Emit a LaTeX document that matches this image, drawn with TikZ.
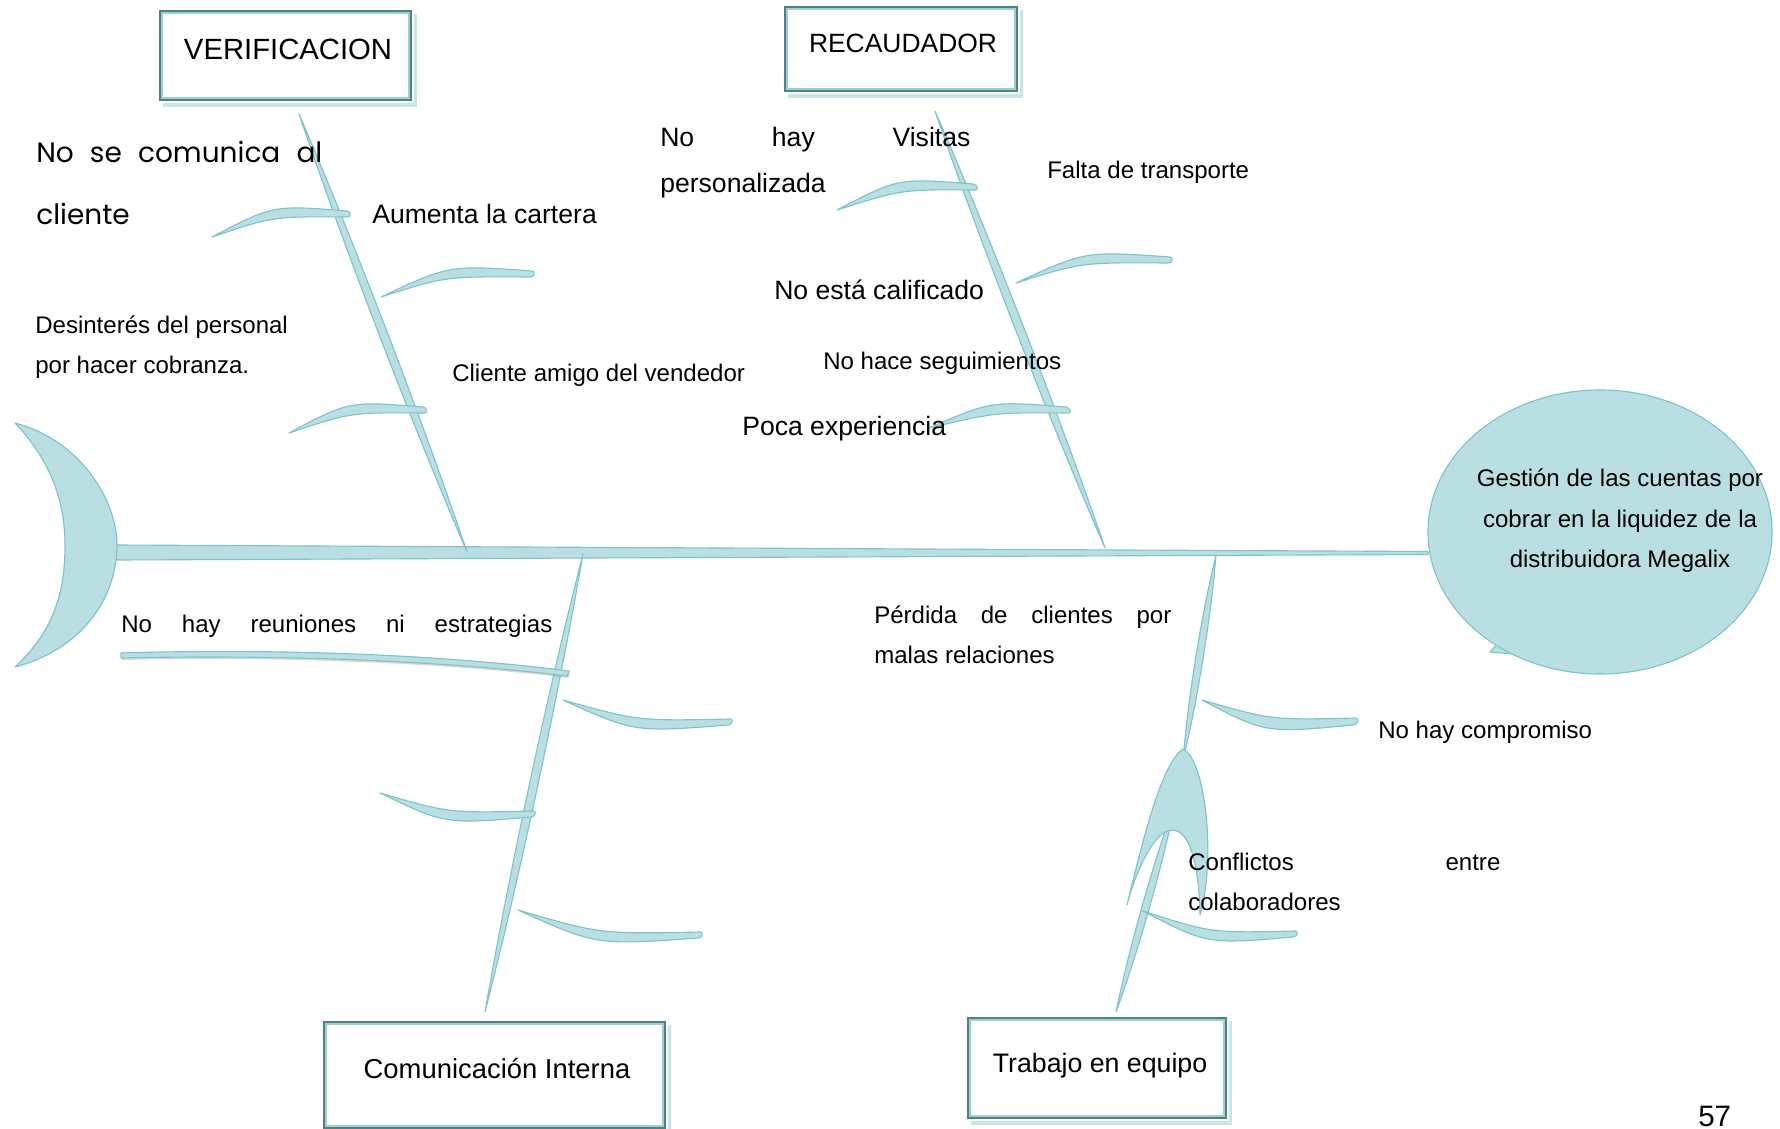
\documentclass[tikz,border=0pt]{standalone}
\usepackage{fontspec}
\setmainfont{Liberation Sans}
\newfontfamily\handfont{Poppins}
\usetikzlibrary{calc,shapes.geometric}

\definecolor{fishfill}{HTML}{B9DFE2}
\definecolor{fishline}{HTML}{7EC4CA}
\definecolor{boxdark}{HTML}{557F83}
\definecolor{boxlight}{HTML}{96D3D7}
\definecolor{boxshade}{HTML}{C6E7E9}

% long tapered bone between two named points, #3 = bulge
\newcommand\leaf[3]{%
  \path[fish] (#1)
    .. controls ($(#1)!0.3!(#2)!#3!90:(#2)$) and ($(#1)!0.7!(#2)!#3!90:(#2)$) .. (#2)
    .. controls ($(#1)!0.7!(#2)!#3!-90:(#2)$) and ($(#1)!0.3!(#2)!#3!-90:(#2)$) .. (#1) -- cycle;}

% curved blade: tip, control, the two corners of the rounded blunt end
\newcommand\blade[4]{%
  \path[fish] (#1) .. controls (#2) .. (#3)
    .. controls ($(#3)!-3pt!(#2)$) and ($(#4)!-3pt!(#2)$) .. (#4)
    .. controls ($(#2)+1.9*(#4)-1.9*(#3)$) .. (#1) -- cycle;}

% double frame and shadow of a category box
\newcommand\boxtrim[1]{%
  \draw[boxshade, line width=2.6pt] ([shift={(3.5,4)}]#1.north east) -- ([shift={(3.5,4)}]#1.south east) -- ([shift={(3.5,4)}]#1.south west);
  \draw[boxlight, line width=1.3pt] ([shift={(3,3)}]#1.north west) rectangle ([shift={(-3,-3)}]#1.south east);}

\begin{document}
\begin{tikzpicture}[x=0.025cm, y=-0.025cm,
  fish/.style={fill=fishfill, draw=fishline, line width=0.8pt, line join=round},
  lbl/.style={inner sep=0pt, anchor=base west, font=\fontsize{17.1pt}{20pt}\selectfont},
  lblm/.style={lbl, font=\fontsize{18.9pt}{22pt}\selectfont},
  catbox/.style={rectangle, draw=boxdark, line width=1.3pt, fill=white, inner sep=0pt},
  boxlbl/.style={inner sep=0pt, anchor=base},
  efflbl/.style={inner sep=0pt, anchor=base, font=\fontsize{17.1pt}{20pt}\selectfont}
]
\useasboundingbox (0,0) rectangle (1780,1129);

% bone end points
\coordinate (b1t) at (299,114);  \coordinate (b1s) at (467,552);
\coordinate (b2t) at (935,111);  \coordinate (b2s) at (1105,548);
\coordinate (b3s) at (583,554);  \coordinate (b3b) at (485,1012);
\coordinate (b4s) at (1216,555); \coordinate (b4m) at (1183,760);
\coordinate (b4n) at (1176,800); \coordinate (b4b) at (1116,1012);

% spine
\path[fish] (116,545) -- (1428,551.5) -- (1428,554.5) -- (116,560) -- cycle;

% main bones
\leaf{b1t}{b1s}{4pt}
\leaf{b2t}{b2s}{4pt}
\leaf{b3s}{b3b}{4pt}
\leaf{b4s}{b4m}{3.5pt}
\leaf{b4n}{b4b}{3.5pt}

% small bones
\blade{212,237}{273,205}{347,211}{347,217}
\blade{381,297}{449,265}{532,271}{530,277}
\blade{289,433}{349,401}{423,407}{424,413}
\blade{837,210}{898,178}{973,184}{975,190}
\blade{1016,283}{1085,251}{1170,257}{1168,263}
\blade{929,428}{991,401}{1066,407}{1068,413}
\blade{563,700}{638,721}{730,719}{728,725}
\blade{380,793}{449,813}{533,811}{531,817}
\blade{518,910}{600,934}{700,932}{698,938}
\blade{1202,700}{1271,720}{1356,718}{1353,725}
\blade{1143,911}{1211,933}{1295,931}{1293,937}

% long lower-left bone with its shadow
\path[fill=black!45, opacity=0.35] (122,655) .. controls (250,651) and (420,654) .. (570,673) -- (569,678) .. controls (420,660) and (250,657) .. (122,660) -- cycle;
\path[fish] (121,653) .. controls (250,649) and (420,652) .. (569,671) -- (567,676) .. controls (420,658) and (250,655) .. (121,658) -- cycle;

% fork on the team bone
\path[fish] (1127,905) .. controls (1145,830) and (1163,762) .. (1183,749)
  .. controls (1206,760) and (1216,860) .. (1200,915)
  .. controls (1199,865) and (1190,830) .. (1172,830)
  .. controls (1155,830) and (1136,870) .. (1127,905) -- cycle;

% tail
\path[fish] (15,423) .. controls (80,440) and (117,500) .. (117,545)
  .. controls (117,600) and (80,650) .. (15,667)
  .. controls (55,630) and (65,590) .. (65,545)
  .. controls (65,500) and (50,460) .. (15,423) -- cycle;

% head
\path[fish] (1490,652) -- (1500,641) -- (1513,654) -- cycle;
\node[fish, ellipse, minimum width=8.6cm, minimum height=7.1cm, inner sep=0pt] (effect) at (1600,532) {};

% category boxes
\node[catbox, minimum width=6.275cm, minimum height=2.225cm] (verif) at (285.5,55.5) {};
\node[catbox, minimum width=5.8cm, minimum height=2.1cm] (recau) at (901,49) {};
\node[catbox, minimum width=8.525cm, minimum height=2.65cm] (comint) at (494.5,1075) {};
\node[catbox, minimum width=6.45cm, minimum height=2.5cm] (trabeq) at (1097,1068) {};
\boxtrim{verif}
\boxtrim{recau}
\boxtrim{comint}
\boxtrim{trabeq}

\node[boxlbl, font=\fontsize{20.8pt}{24pt}\selectfont] (lverif) at (288,60) {VERIFICACION};
\node[boxlbl, font=\fontsize{18.8pt}{22pt}\selectfont] (lrecau) at (903,53) {RECAUDADOR};
\node[boxlbl, font=\fontsize{19.5pt}{22pt}\selectfont] (lcomint) at (497,1078) {Comunicación Interna};
\node[boxlbl, font=\fontsize{19pt}{22pt}\selectfont] (ltrabeq) at (1100,1072) {Trabajo en equipo};

% effect text
\node[efflbl] (eff1) at (1620,486) {Gestión de las cuentas por};
\node[efflbl] (eff2) at (1620,527) {cobrar en la liquidez de la};
\node[efflbl] (eff3) at (1620,567) {distribuidora Megalix};

% causes
\node[lbl, font=\handfont\fontsize{19.9pt}{24pt}\selectfont] (hand1) at (36,163) {\hbox to 7.15cm{No\hfill se\hfill comunica\hfill al}};
\node[lbl, font=\handfont\fontsize{19.9pt}{24pt}\selectfont] (hand2) at (36,225) {cliente};
\node[lblm] (aum) at (372,224) {Aumenta la cartera};
\node[lbl] (des1) at (35,333) {Desinterés del personal};
\node[lbl] (des2) at (35,373) {por hacer cobranza.};
\node[lbl] (cli) at (452,381) {Cliente amigo del vendedor};

\node[lblm] (vis1) at (660,147) {\hbox to 7.75cm{No\hfill hay\hfill Visitas}};
\node[lblm] (vis2) at (660,193) {personalizada};
\node[lbl] (fal) at (1047,179) {Falta de transporte};
\node[lblm] (cal) at (774,300) {No está calificado};
\node[lbl] (seg) at (823,369) {No hace seguimientos};
\node[lblm] (poc) at (742,435) {Poca experiencia};

\node[lbl] (reu) at (121,632) {\hbox to 10.775cm{No\hfill hay\hfill reuniones\hfill ni\hfill estrategias}};

\node[lbl] (per1) at (874,623) {\hbox to 7.425cm{Pérdida\hfill de\hfill clientes\hfill por}};
\node[lbl] (per2) at (874,663) {malas relaciones};
\node[lbl] (comp) at (1378,738) {No hay compromiso};
\node[lbl] (con1) at (1188,870) {\hbox to 7.8cm{Conflictos\hfill entre}};
\node[lbl] (con2) at (1188,910) {colaboradores};

% page number
\node[lbl, font=\fontsize{21pt}{24pt}\selectfont] (page) at (1698,1126) {57};
\end{tikzpicture}
\end{document}
